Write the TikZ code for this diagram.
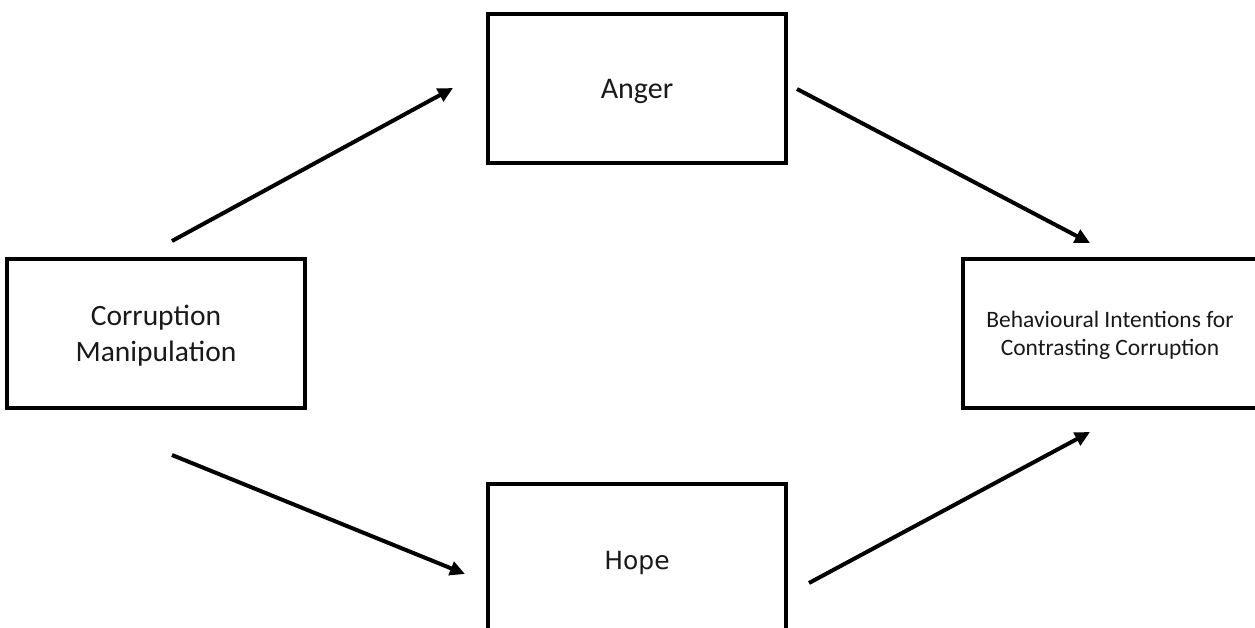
\documentclass[tikz,border=0pt]{standalone}
\usepackage{fontspec}
\setmainfont{Carlito}
\newfontfamily\hopefont{DejaVu Sans}
\usetikzlibrary{arrows.meta}
\begin{document}
\begin{tikzpicture}[x=1pt,y=-1pt,
  box/.style={draw=black,line width=4pt,rectangle,inner sep=0pt,align=center,
    text depth=0pt,text=black!90},
  link/.style={line width=4pt,-{Triangle[length=15pt,width=14pt]}}]
\useasboundingbox (0,0) rectangle (1255,628);
\begin{scope}
\clip (0,0) rectangle (1255,628);
% the four boxes
\node[box,minimum width=298pt,minimum height=149pt,font=\fontsize{29.5}{35.7}\selectfont]
  (cm) at (156,333.5) {Corruption\\Manipulation};
\node[box,minimum width=298pt,minimum height=149pt,font=\fontsize{30}{34}\selectfont]
  (anger) at (637,88.5) {Anger};
\node[box,minimum width=298pt,minimum height=152pt,font=\hopefont\fontsize{25}{30}\selectfont]
  (hope) at (637,560) {Hope};
\node[box,minimum width=294pt,minimum height=149pt,font=\fontsize{23.5}{27.7}\selectfont]
  (bi) at (1110,333.5) {Behavioural Intentions for\\Contrasting Corruption};
\end{scope}
% arrow end points
\coordinate (a1s) at (172,241);
\coordinate (a1e) at (453,88);
\coordinate (a2s) at (797,89);
\coordinate (a2e) at (1090,243);
\coordinate (a3s) at (172,455);
\coordinate (a3e) at (465,574);
\coordinate (a4s) at (809,583);
\coordinate (a4e) at (1090,432);
\draw[link] (a1s) -- (a1e);
\draw[link] (a2s) -- (a2e);
\draw[link] (a3s) -- (a3e);
\draw[link] (a4s) -- (a4e);
\end{tikzpicture}
\end{document}
